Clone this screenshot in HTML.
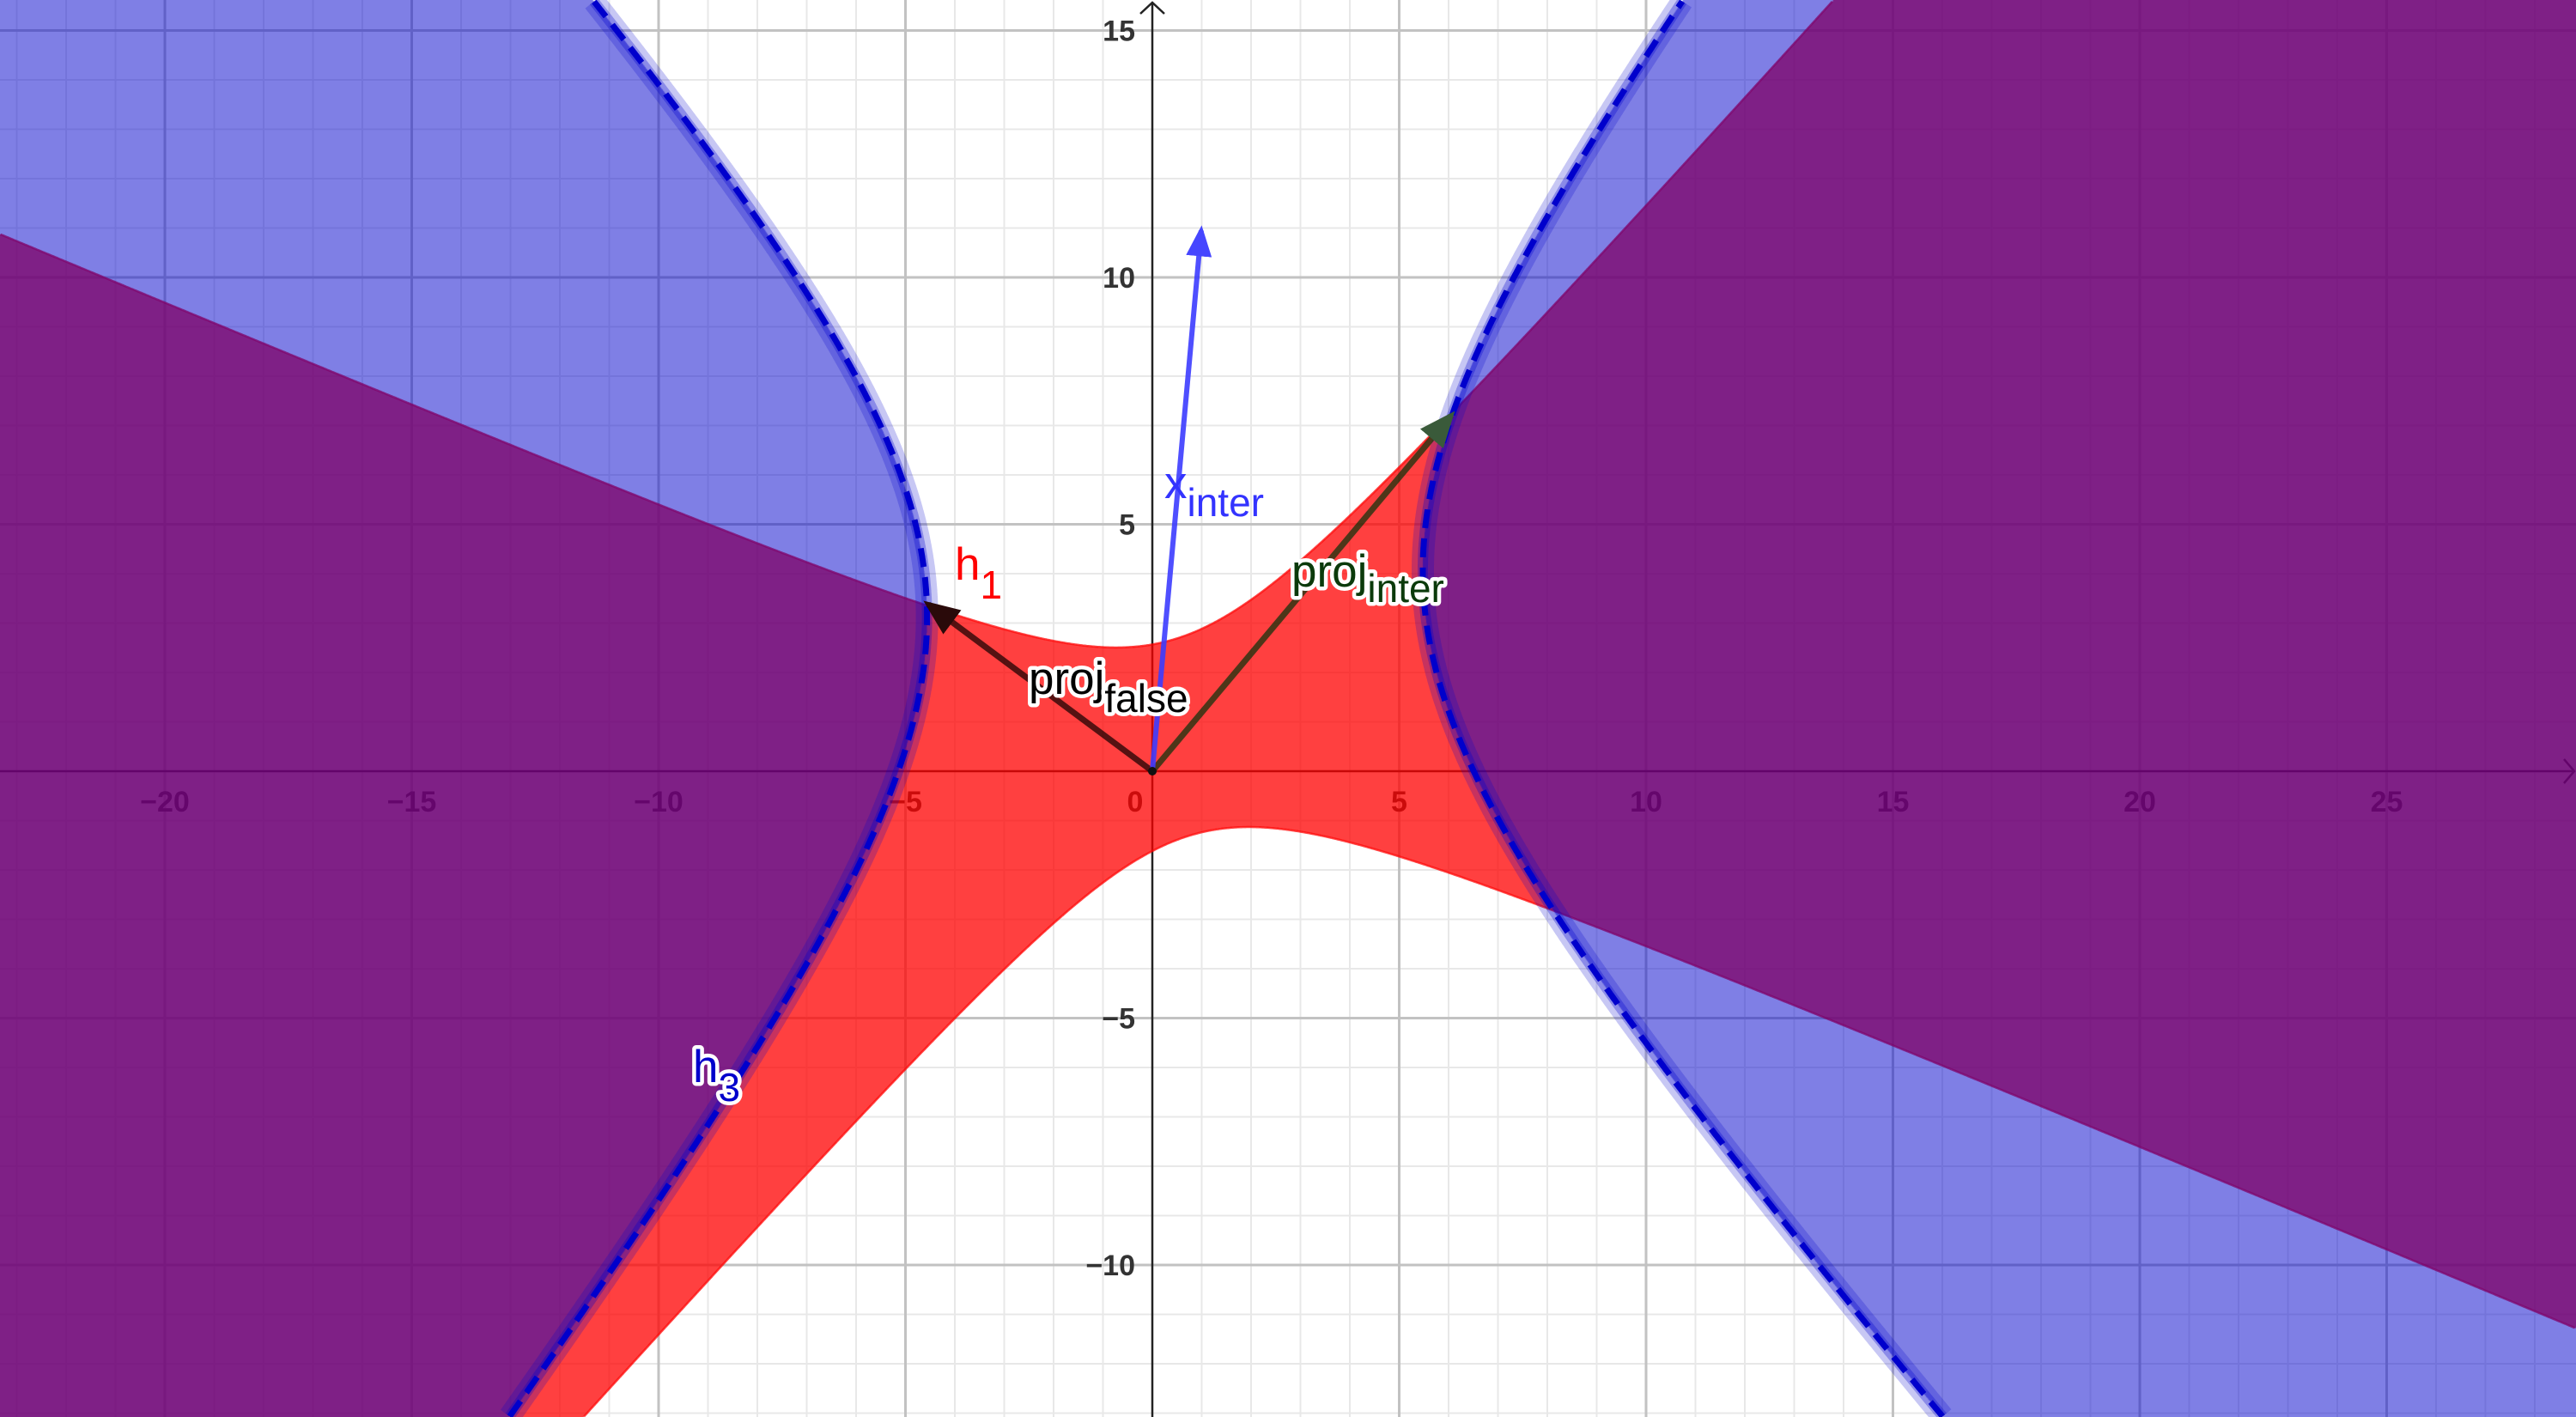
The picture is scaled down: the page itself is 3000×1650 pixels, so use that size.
<!DOCTYPE html>
<html><head><meta charset="utf-8">
<style>
html,body{margin:0;padding:0;background:#fff;width:3000px;height:1650px;overflow:hidden;}
#wrap{position:relative;width:3000px;height:1650px;overflow:hidden;font-family:"Liberation Sans",sans-serif;}
svg,canvas{position:absolute;left:0;top:0;display:block;}
</style></head>
<body>
<div id="wrap">
<svg id="under" width="3000" height="1650"></svg>
<canvas id="cv" width="3000" height="1650"></canvas>
<svg id="over" width="3000" height="1650"></svg>
</div>
<script>
// ---- data (graph units) ----
const H1_X = [-23.34,-4.54,-3.02,-1.8,-0.8,0,0.76,1.76,2.87,3.98,5.09,6.09,13.76,
              -11.53,-5.96,-4.02,-2.63,-1.08,0,1.01,1.98,2.98,4.49,7.83,13.8,20.02,28.4];
const H1_Y = [10.86,3.38,2.91,2.68,2.62,2.70,2.87,3.38,4.07,4.92,5.85,7.24,15.62,
              -13.08,-6.99,-4.96,-3.57,-2.32,-1.63,-1.28,-1.14,-1.18,-1.56,-2.71,-5.02,-7.55,-11.14];
const H3_X = [-11.36,-9.03,-7.36,-6.03,-5.03,-4.61,-4.96,-5.19,-6.04,-7.13,-8.22,-8.91,-13.03,
              10.77,6.09,5.64,5.53,5.7,6.03,6.43,7.83,9.77,13.03,16.05];
const H3_Y = [15.62,12.87,10.13,7.84,5.55,3.45,0.83,0,-2.07,-4.09,-6.12,-6.99,-13.08,
              15.62,7.24,5.54,3.69,2.06,0.83,0,-2.71,-5.02,-9.46,-13.08];
const VEC_X_INTER = [0.99, 10.95];
const VEC_PROJ_FALSE = [-4.54, 3.38];
const VEC_PROJ_INTER = [6.05, 7.2];
const X_TICKS = [-20,-15,-10,-5,0,5,10,15,20,25];
const X_TICK_LABELS = ["\u221220","\u221215","\u221210","\u22125","0","5","10","15","20","25"];
const Y_TICKS = [15,10,5,-5,-10];
const Y_TICK_LABELS = ["15","10","5","\u22125","\u221210"];

// ---- axes ----
const W=3000,H=1650,OX=1342,OY=898,S=57.5;
const px=x=>OX+x*S, py=y=>OY-y*S;
const ux=p=>(p-OX)/S, uy=p=>(OY-p)/S;
const NS="http://www.w3.org/2000/svg";
function mk(parent,tag,attrs){const e=document.createElementNS(NS,tag);for(const k in attrs)e.setAttribute(k,attrs[k]);parent.appendChild(e);return e;}

// ---- conic fit: A x^2 + B xy + C y^2 + D x + E y = 1 ----
function fit(X,Y){
  const M=[...Array(5)].map(()=>[0,0,0,0,0,0]);
  for(let i=0;i<X.length;i++){const x=X[i],y=Y[i];const r=[x*x,x*y,y*y,x,y];
    for(let a=0;a<5;a++){for(let b=0;b<5;b++)M[a][b]+=r[a]*r[b];M[a][5]+=r[a];}}
  for(let c=0;c<5;c++){let p=c;for(let r=c+1;r<5;r++)if(Math.abs(M[r][c])>Math.abs(M[p][c]))p=r;
    [M[c],M[p]]=[M[p],M[c]];
    for(let r=0;r<5;r++)if(r!==c){const f=M[r][c]/M[c][c];for(let k=c;k<6;k++)M[r][k]-=f*M[c][k];}}
  return M.map((row,i)=>row[5]/row[i]);
}
const K1=fit(H1_X,H1_Y), K3=fit(H3_X,H3_Y);
const f=(K,x,y)=>K[0]*x*x+K[1]*x*y+K[2]*y*y+K[3]*x+K[4]*y-1;

// ---- under layer: grid, axes, tick labels ----
const U=document.getElementById('under');
for(let i=-23;i<=28;i++){ if(i%5===0) continue;
  const l=mk(U,'line',{x1:px(i),x2:px(i),y1:0,y2:H,stroke:'#e8e8e8','stroke-width':2});
  
  }
for(let j=-13;j<=15;j++){ if(j%5===0) continue;
  const l=mk(U,'line',{x1:0,x2:W,y1:py(j),y2:py(j),stroke:'#e8e8e8','stroke-width':2});
  
  }
for(let i=-20;i<=25;i+=5){ if(i===0) continue;
  const l=mk(U,'line',{x1:px(i),x2:px(i),y1:0,y2:H,stroke:'#c2c2c2','stroke-width':3});
  
  }
for(let j=-10;j<=15;j+=5){ if(j===0) continue;
  const l=mk(U,'line',{x1:0,x2:W,y1:py(j),y2:py(j),stroke:'#c2c2c2','stroke-width':3});
  
  }
let ax=mk(U,'line',{x1:0,x2:W-3,y1:OY,y2:OY,stroke:'#222','stroke-width':2.5});

let ay=mk(U,'line',{x1:OX,x2:OX,y1:3,y2:H,stroke:'#222','stroke-width':2.5});

let axa=mk(U,'path',{d:`M${W-14},${OY-14} L${W-2},${OY} L${W-14},${OY+14}`,fill:'none',stroke:'#222','stroke-width':2.5});

let aya=mk(U,'path',{d:`M${OX-14},${16} L${OX},${3} L${OX+14},${16}`,fill:'none',stroke:'#222','stroke-width':2.5});

X_TICKS.forEach((v,i)=>{
  const t=mk(U,'text',{x:v===0?px(v)-20:px(v),y:OY+47,'text-anchor':'middle','font-size':34,'font-weight':'bold',fill:'#333'});
  t.textContent=X_TICK_LABELS[i];
  
  
});
Y_TICKS.forEach((v,i)=>{
  const t=mk(U,'text',{x:OX-20,y:py(v)+12,'text-anchor':'end','font-size':34,'font-weight':'bold',fill:'#333'});
  t.textContent=Y_TICK_LABELS[i];
  
  
});

// ---- curve sampling (visible range only) ----
const YMIN=uy(H)+0.01, YMAX=uy(0)-0.01, XMIN=ux(0)+0.01, XMAX=ux(W)-0.01;
function h3Branches(){const L=[],R=[];
  for(let y=YMIN;y<=YMAX;y+=0.02){const a=K3[0],b=K3[1]*y+K3[3],c=K3[2]*y*y+K3[4]*y-1;
    const d=b*b-4*a*c;if(d<0)continue;const s=Math.sqrt(d);
    const r1=(-b-s)/(2*a),r2=(-b+s)/(2*a);
    L.push([Math.min(r1,r2),y]);R.push([Math.max(r1,r2),y]);}
  return [L,R];}
function h1Branches(){const Lo=[],Up=[];
  for(let x=XMIN;x<=XMAX;x+=0.02){const a=K1[2],b=K1[1]*x+K1[4],c=K1[0]*x*x+K1[3]*x-1;
    const d=b*b-4*a*c;if(d<0)continue;const s=Math.sqrt(d);
    const r1=(-b-s)/(2*a),r2=(-b+s)/(2*a);
    const lo=Math.min(r1,r2),up=Math.max(r1,r2);
    if(lo>=YMIN&&lo<=YMAX)Lo.push([x,lo]);
    if(up>=YMIN&&up<=YMAX)Up.push([x,up]);}
  return [Lo,Up];}
const toD=pts=>pts.map((p,i)=>(i?'L':'M')+px(p[0]).toFixed(1)+','+py(p[1]).toFixed(1)).join(' ');

const [h1Lo,h1Up]=h1Branches();
[h1Lo,h1Up].forEach(br=>{
  const p=mk(U,'path',{d:toD(br),fill:'none',stroke:'rgba(255,0,0,0.7)','stroke-width':2.5});
  
  
});

// ---- region fill ----
const cv=document.getElementById('cv'),ctx=cv.getContext('2d');
const img=ctx.createImageData(W,H),D=img.data;
const offs=[[0.25,0.25],[0.75,0.25],[0.25,0.75],[0.75,0.75]];
for(let j=0;j<H;j++){for(let i=0;i<W;i++){
  let R=0,G=0,B=0,A=0;
  for(const o of offs){const x=ux(i+o[0]),y=uy(j+o[1]);
    const red=f(K1,x,y)<0, blue=f(K3,x,y)>0;
    let r=0,g=0,b=0,a=0;
    if(red){r=255*0.75;a=0.75;}
    if(blue){r=r*0.5;g=g*0.5;b=b*0.5+204*0.5;a=0.5+a*0.5;}
    R+=r;G+=g;B+=b;A+=a;}
  const k=(j*W+i)*4;
  if(A>0){D[k]=R/A;D[k+1]=G/A;D[k+2]=B/A;D[k+3]=A/4*255;}
}}
ctx.putImageData(img,0,0);

// ---- over layer ----
const O=document.getElementById('over');
const defs=mk(O,'defs',{});
function marker(id,color){const m=mk(defs,'marker',{id:id,markerWidth:6,markerHeight:5,refX:5,refY:2.5,orient:'auto',markerUnits:'strokeWidth'});
  mk(m,'path',{d:'M0,0 L6,2.5 L0,5 Z',fill:color});}
marker('mBlue','#4646ff');marker('mBlack','#2a0a0a');marker('mGreen','#3a5a3a');

const [h3L,h3R]=h3Branches();
[h3L,h3R].forEach(br=>{
  const d=toD(br);
  const g=mk(O,'g',{});
  
  
  mk(g,'path',{d:d,fill:'none',stroke:'rgba(0,0,204,0.22)','stroke-width':26});
  mk(g,'path',{d:d,fill:'none',stroke:'rgba(0,0,204,0.3)','stroke-width':12});
  mk(g,'path',{d:d,fill:'none',stroke:'#0000cc','stroke-width':7,'stroke-dasharray':'22 12'});
});

function vec(tip,color,mid,name,w){
  const l=mk(O,'line',{x1:px(0),y1:py(0),x2:px(tip[0]),y2:py(tip[1]),stroke:color,'stroke-width':w,'marker-end':`url(#${mid})`});
  
  
}
vec(VEC_PROJ_FALSE,'rgba(20,0,0,0.72)','mBlack','proj-false-vector',7);
vec(VEC_PROJ_INTER,'rgba(10,50,10,0.72)','mGreen','proj-inter-vector',7);
vec(VEC_X_INTER,'rgba(60,60,255,0.9)','mBlue','x-inter-vector',6);
const dot=mk(O,'circle',{cx:OX,cy:OY,r:5,fill:'#111'});



function label(x,y,main,sub,fill,stroke,name,subdy){
  const t=mk(O,'text',{x:x,y:y,'font-size':53,fill:fill});
  if(stroke){t.setAttribute('stroke','#fff');t.setAttribute('stroke-width',9);t.setAttribute('paint-order','stroke');t.setAttribute('stroke-linejoin','round');}
  const a=mk(t,'tspan',{});a.textContent=main;
  const b=mk(t,'tspan',{dy:subdy,'font-size':46});b.textContent=sub;
  
  
}
label(1112,675,'h','1','#ff0000',false,'h1-label',22);
label(1356,580,'x','inter','#3333ff',false,'x-inter-label',21);
label(1198,808,'proj','false','#000',true,'proj-false-label',21);
label(1504,683,'proj','inter','#0b3a0b',true,'proj-inter-label',18);
label(807,1260,'h','3','#0000cc',true,'h3-label',22);
</script>
</body></html>
